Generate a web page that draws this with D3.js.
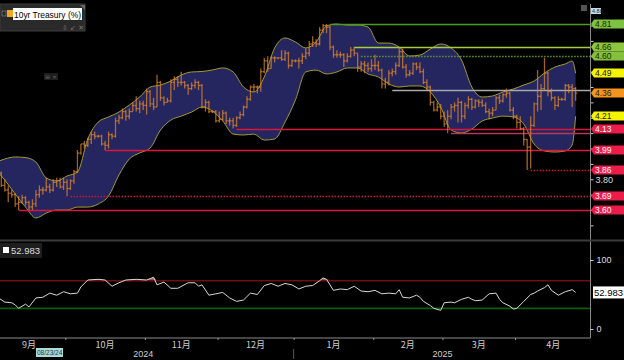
<!DOCTYPE html>
<html><head><meta charset="utf-8">
<script src="https://cdn.jsdelivr.net/npm/d3@7"></script>
<style>body{margin:0;background:#000;overflow:hidden}svg{display:block}</style>
</head><body>
<svg id="chart" width="624" height="360"></svg>
<script>
// ---------- DATA ----------
const firstDay = "2024-09-02", lastDay = "2025-04-24";
// [open, high, low, close] per weekday
const ohlc = [
[3.91,3.92,3.89,3.90],[3.91,3.93,3.83,3.84],[3.84,3.85,3.75,3.76],[3.76,3.80,3.72,3.73],[3.73,3.76,3.65,3.71],
[3.71,3.73,3.68,3.70],[3.70,3.71,3.62,3.64],[3.64,3.69,3.60,3.65],[3.65,3.70,3.64,3.68],[3.68,3.69,3.63,3.65],
[3.65,3.66,3.60,3.62],[3.62,3.67,3.60,3.64],[3.64,3.73,3.62,3.70],[3.70,3.76,3.68,3.73],[3.73,3.75,3.70,3.73],
[3.73,3.81,3.72,3.75],[3.75,3.77,3.71,3.73],[3.73,3.80,3.72,3.78],[3.78,3.81,3.75,3.79],[3.79,3.81,3.74,3.75],
[3.75,3.81,3.73,3.78],
[3.78,3.80,3.69,3.74],[3.74,3.80,3.73,3.79],[3.79,3.86,3.77,3.85],[3.85,3.99,3.84,3.97],
[3.97,4.03,3.96,4.03],[4.03,4.05,4.00,4.02],[4.02,4.07,4.01,4.06],[4.06,4.11,4.03,4.09],[4.09,4.11,4.06,4.08],
[4.08,4.09,4.07,4.08],[4.08,4.09,4.02,4.03],[4.03,4.05,3.99,4.02],[4.02,4.11,4.00,4.09],[4.09,4.10,4.06,4.08],
[4.08,4.20,4.07,4.18],[4.18,4.22,4.16,4.20],[4.20,4.26,4.19,4.24],[4.24,4.25,4.18,4.21],[4.21,4.26,4.19,4.24],
[4.24,4.30,4.24,4.28],[4.28,4.34,4.24,4.26],[4.26,4.31,4.23,4.29],[4.29,4.31,4.25,4.28],
[4.28,4.39,4.22,4.37],
[4.37,4.38,4.27,4.29],[4.29,4.33,4.25,4.27],[4.27,4.48,4.27,4.43],[4.43,4.44,4.31,4.33],[4.33,4.34,4.28,4.30],
[4.30,4.33,4.30,4.31],[4.31,4.45,4.30,4.43],[4.43,4.47,4.38,4.45],[4.45,4.47,4.40,4.43],[4.43,4.50,4.41,4.43],
[4.43,4.44,4.39,4.41],[4.41,4.42,4.35,4.39],[4.39,4.43,4.38,4.41],[4.41,4.45,4.39,4.43],[4.43,4.44,4.38,4.41],
[4.41,4.42,4.26,4.27],[4.27,4.32,4.24,4.30],[4.30,4.31,4.23,4.24],[4.24,4.25,4.23,4.24],[4.24,4.25,4.17,4.18],
[4.18,4.24,4.17,4.19],[4.19,4.25,4.18,4.23],[4.23,4.24,4.16,4.18],[4.18,4.20,4.15,4.18],[4.18,4.20,4.13,4.15],
[4.15,4.21,4.14,4.20],[4.20,4.24,4.19,4.22],[4.22,4.28,4.21,4.27],[4.27,4.34,4.26,4.32],[4.32,4.41,4.31,4.40],
[4.40,4.42,4.37,4.40],[4.40,4.41,4.36,4.40],[4.40,4.52,4.37,4.50],[4.50,4.59,4.49,4.57],[4.57,4.60,4.50,4.52],
[4.52,4.60,4.52,4.59],[4.59,4.60,4.56,4.59],[4.59,4.59,4.58,4.59],[4.59,4.64,4.57,4.58],[4.58,4.64,4.57,4.62],
[4.62,4.63,4.52,4.54],[4.54,4.58,4.53,4.57],
[4.57,4.58,4.56,4.57],[4.57,4.59,4.52,4.57],[4.57,4.62,4.55,4.60],
[4.60,4.65,4.58,4.62],[4.62,4.70,4.60,4.68],[4.68,4.73,4.66,4.69],[4.69,4.71,4.66,4.68],[4.68,4.79,4.67,4.77],
[4.77,4.81,4.75,4.80],[4.80,4.81,4.75,4.79],[4.79,4.80,4.64,4.66],[4.66,4.67,4.59,4.61],[4.61,4.64,4.59,4.61],
[4.61,4.63,4.59,4.61],[4.61,4.62,4.53,4.57],[4.57,4.62,4.56,4.60],[4.60,4.66,4.59,4.64],[4.64,4.66,4.60,4.62],
[4.62,4.62,4.50,4.53],[4.53,4.57,4.50,4.55],[4.55,4.57,4.49,4.54],[4.54,4.56,4.50,4.52],[4.52,4.58,4.50,4.54],
[4.54,4.61,4.51,4.54],[4.54,4.57,4.50,4.51],[4.51,4.52,4.39,4.42],[4.42,4.46,4.39,4.43],[4.43,4.51,4.41,4.49],
[4.49,4.52,4.47,4.50],[4.50,4.56,4.48,4.54],[4.54,4.66,4.53,4.63],[4.63,4.65,4.52,4.53],[4.53,4.55,4.46,4.48],
[4.48,4.51,4.47,4.49],[4.49,4.56,4.48,4.55],[4.55,4.56,4.51,4.53],[4.53,4.56,4.49,4.50],[4.50,4.52,4.42,4.43],
[4.43,4.45,4.38,4.40],[4.40,4.41,4.28,4.30],[4.30,4.31,4.24,4.25],[4.25,4.30,4.24,4.27],[4.27,4.29,4.19,4.21],
[4.21,4.24,4.14,4.16],[4.16,4.25,4.10,4.21],[4.21,4.29,4.19,4.27],[4.27,4.30,4.24,4.28],[4.28,4.33,4.17,4.30],
[4.30,4.31,4.17,4.21],[4.21,4.30,4.19,4.28],[4.28,4.34,4.26,4.32],[4.32,4.33,4.25,4.27],[4.27,4.32,4.26,4.31],
[4.31,4.32,4.27,4.30],[4.30,4.32,4.27,4.28],[4.28,4.30,4.23,4.24],[4.24,4.26,4.19,4.23],[4.23,4.27,4.21,4.25],
[4.25,4.34,4.25,4.33],[4.33,4.35,4.29,4.31],[4.31,4.36,4.30,4.35],[4.35,4.39,4.33,4.36],[4.36,4.37,4.24,4.25],
[4.25,4.27,4.19,4.21],
[4.21,4.22,4.13,4.17],[4.17,4.21,4.12,4.13],[4.13,4.14,4.02,4.06],[4.06,4.06,3.86,4.01],
[4.01,4.21,3.87,4.15],[4.15,4.30,4.14,4.29],[4.29,4.51,4.24,4.34],[4.34,4.42,4.25,4.39],[4.39,4.59,4.38,4.49],
[4.49,4.50,4.34,4.37],[4.37,4.39,4.31,4.33],[4.33,4.34,4.25,4.28],[4.28,4.34,4.27,4.32],[4.32,4.33,4.31,4.32],
[4.32,4.42,4.31,4.41],[4.41,4.42,4.36,4.40],[4.40,4.42,4.27,4.39],[4.39,4.40,4.31,4.36]
];
// Bollinger band samples (bar index -> value)
const bandAt = [0,3,6,9,12,15,18,21,24,27,30,33,36,39,42,45,48,51,54,57,60,63,66,69,72,75,78,81,84,87,90,93,96,99,102,105,108,111,114,117,120,123,126,129,132,135,138,141,144,147,150,153,156,159,162,165,167,168];
const bandUpper = [3.906,3.932,3.945,3.941,3.912,3.808,3.789,3.821,3.847,4.062,4.172,4.205,4.237,4.283,4.335,4.40,4.413,4.439,4.478,4.498,4.501,4.511,4.524,4.498,4.40,4.368,4.465,4.654,4.719,4.693,4.654,4.693,4.797,4.81,4.803,4.803,4.79,4.686,4.686,4.66,4.602,4.608,4.647,4.68,4.654,4.576,4.40,4.335,4.342,4.368,4.387,4.413,4.439,4.491,4.53,4.55,4.569,4.49];
const bandLower = [3.870,3.795,3.704,3.619,3.548,3.58,3.60,3.60,3.619,3.619,3.639,3.691,3.828,3.932,3.971,4.003,4.12,4.185,4.211,4.237,4.27,4.244,4.179,4.094,4.088,4.094,4.055,4.062,4.172,4.315,4.498,4.51,4.485,4.498,4.524,4.524,4.485,4.465,4.42,4.40,4.407,4.407,4.368,4.27,4.12,4.101,4.127,4.179,4.198,4.211,4.205,4.159,4.029,3.984,3.977,3.984,4.023,4.21];
// RSI samples (bar index -> value)
const rsiAt  = [0,3,5,6,7,9,10,12,14,16,18,20,22,24,25,27,30,32,34,36,38,41,44,46,47,49,51,53,56,58,59,60,62,64,66,68,70,72,74,76,78,80,82,84,86,88,90,92,94,95,96,98,100,102,104,106,108,110,112,114,116,117,118,120,122,123,124,126,127,129,130,132,133,135,137,138,139,141,143,145,146,147,149,150,151,153,155,156,157,159,160,161,163,165,167,168];
const rsiVal = [49,39,38,35,30,36,32,45,46,52,49,54,51,52,61,71,72,71,62,67,71,72,71,75,64,68,59,59,67,67,62,64,49,51,53,45,40,42,52,50,63,66,62,66,64,58,62,63,70,74,72,56,58,57,62,55,54,56,51,52,51,57,46,45,49,46,40,34,30,27,38,39,38,43,46,43,41,42,51,52,43,38,33,29,30,40,50,52,55,60,64,56,49,54,57,53];
const levels = [
  {v:4.81, from:97,  color:"#4e9b1c", dash:null},
  {v:4.66, from:104, color:"#a6cf3c", dash:null},
  {v:4.60, from:106, color:"#5c9e22", dash:"1.5,1.5"},
  {v:4.38, from:115, color:"#a8a8a8", dash:null},
  {v:4.13, from:70,  color:"#d8173d", dash:null},
  {v:4.10, from:132, color:"#b2395a", dash:null},
  {v:3.99, from:32,  color:"#e0173d", dash:null},
  {v:3.86, from:155, color:"#d01434", dash:"1.5,1.5"},
  {v:3.69, from:22,  color:"#d01434", dash:"1.5,1.5"},
  {v:3.60, from:7,   color:"#d8173d", dash:null}
];
const tagValues = ["4.81","4.66","4.60","4.49","4.36","4.21","4.13","3.99","3.86","3.69","3.60"];
const tagFill   = ["#7dc242","#8cc63f","#84c03c","#f4f400","#f7941d","#f4f400","#ea1c4a","#ea1c4a","#ea1c4a","#ea1c4a","#ea1c4a"];
const tagText   = ["#1a2a00","#1a2a00","#1a2a00","#222","#222","#222","#fff","#fff","#fff","#fff","#fff"];
const monthNames = ["9月","10月","11月","12月","1月","2月","3月","4月"];
const monthStarts = ["2024-09-02","2024-10-01","2024-11-01","2024-12-02","2025-01-01","2025-02-03","2025-03-03","2025-04-01","2025-05-01"];
const years = [{label:"2024", from:"2024-09-02", to:"2025-01-01"},{label:"2025", from:"2025-01-01", to:"2025-05-01"}];
const rsiLast = "52.983";

// ---------- SCALES ----------
const parse = d3.timeParse("%Y-%m-%d");
const days = d3.timeDay.range(parse(firstDay), parse("2025-05-01")).filter(d => d.getDay()!==0 && d.getDay()!==6);
const idxOf = s => { const t = parse(s).getTime(); return days.findIndex(d => d.getTime() >= t); };
const svg = d3.select("#chart");
const W = 624, axisX = 590.5;
const x = d3.scaleLinear().domain([0, 172.5]).range([-5.6, 591.2]);
const y = d3.scaleLinear().domain([3.60, 4.81]).range([210, 24]);
const yr = d3.scaleLinear().domain([0, 100]).range([329, 260]);

svg.append("rect").attr("width",W).attr("height",360).attr("fill","#000");
const defs = svg.append("defs");
defs.append("clipPath").attr("id","clipTop").append("rect").attr("x",0).attr("y",0).attr("width",axisX).attr("height",238);
defs.append("clipPath").attr("id","clipBot").append("rect").attr("x",0).attr("y",242).attr("width",axisX).attr("height",96);

// ---------- MAIN PANEL ----------
const gTop = svg.append("g").attr("clip-path","url(#clipTop)");
const band = bandAt.map((b,i)=>({i:b,u:bandUpper[i],l:bandLower[i]}));
gTop.append("path").datum(band)
  .attr("d", d3.area().x(d=>x(d.i)).y0(d=>y(d.l)).y1(d=>y(d.u)).curve(d3.curveMonotoneX))
  .attr("fill","#25255f");
gTop.append("path").datum(band).attr("d", d3.line().x(d=>x(d.i)).y(d=>y(d.u)).curve(d3.curveMonotoneX))
  .attr("fill","none").attr("stroke","#a59b2e").attr("stroke-width",1);
gTop.append("path").datum(band).attr("d", d3.line().x(d=>x(d.i)).y(d=>y(d.l)).curve(d3.curveMonotoneX))
  .attr("fill","none").attr("stroke","#a59b2e").attr("stroke-width",1);

levels.forEach(L=>{
  const yy = Math.round(y(L.v))+0.5;
  gTop.append("line").attr("x1",x(L.from)).attr("x2",axisX).attr("y1",yy).attr("y2",yy)
    .attr("stroke",L.color).attr("stroke-width",1.3).attr("stroke-dasharray",L.dash);
});

const bars = gTop.append("g").attr("stroke","#e0882a").attr("stroke-opacity",0.72).attr("stroke-width",1.3);
ohlc.forEach((r,i)=>{
  const cx = x(i);
  bars.append("line").attr("x1",cx).attr("x2",cx).attr("y1",y(r[1])).attr("y2",y(r[2]));
  bars.append("line").attr("x1",cx-1.6).attr("x2",cx).attr("y1",y(r[0])).attr("y2",y(r[0]));
  bars.append("line").attr("x1",cx).attr("x2",cx+1.6).attr("y1",y(r[3])).attr("y2",y(r[3]));
});

const yAxis = d3.axisRight(y).tickValues(d3.range(3.5,4.95,0.1)).tickSize(3).tickFormat(d=>Math.abs(d-3.8)<1e-6 ? "3.80" : "");
const ya = svg.append("g").attr("transform",`translate(${axisX},0)`).call(yAxis);
ya.select(".domain").remove();
ya.selectAll("line").attr("stroke","#ccc");
ya.selectAll("text").attr("fill","#ddd").attr("font-size",9).attr("font-family","Liberation Sans, Arial").attr("x",5);

svg.append("line").attr("x1",axisX).attr("x2",axisX).attr("y1",4).attr("y2",338).attr("stroke","#8a8a8a").attr("stroke-width",1);

tagValues.forEach((t,k)=>{
  const yy = Math.round(y(+t));
  const g = svg.append("g").attr("transform",`translate(0,${yy})`);
  g.append("path").attr("d","M591,0 L594,-4.5 L624,-4.5 L624,4.5 L594,4.5 Z").attr("fill",tagFill[k]);
  g.append("text").attr("x",595).attr("y",3.2).attr("fill",tagText[k]).attr("font-size",8.5)
    .attr("font-family","Liberation Sans, Arial").text(t);
});

// header legend
svg.append("rect").attr("x",0).attr("y",4).attr("width",85).attr("height",27).attr("fill","#2a2a2a").attr("stroke","#3c3c3c");
svg.append("rect").attr("x",2).attr("y",11).attr("width",4).attr("height",5).attr("fill","none").attr("stroke","#888").attr("stroke-width",0.6);
svg.append("rect").attr("x",7).attr("y",10).attr("width",6).attr("height",7).attr("fill","#f5a623");
svg.append("rect").attr("x",13).attr("y",8).attr("width",69).attr("height",12).attr("fill","#fff");
svg.append("text").attr("x",14).attr("y",17.5).attr("font-size",9.5).attr("font-family","Liberation Sans, Arial").attr("fill","#000")
  .attr("textLength",67).attr("lengthAdjust","spacingAndGlyphs").text("10yr Treasury (%)");
svg.append("text").attr("x",62).attr("y",30).attr("font-size",7).attr("fill","#777").attr("font-family","DejaVu Sans").text("⇩ ↙ ✕");
svg.append("path").attr("d","M80,5 L85,5 L85,10 Z").attr("fill","#666");
svg.append("rect").attr("x",44).attr("y",73).attr("width",14).attr("height",7).attr("fill","#1d1d1d");
svg.append("text").attr("x",45).attr("y",79).attr("font-size",6).attr("fill","#666").attr("font-family","DejaVu Sans").text("⊞ ×");
svg.append("rect").attr("x",581).attr("y",5).attr("width",6).attr("height",6).attr("fill","#555");
svg.append("rect").attr("x",591).attr("y",8).attr("width",10).attr("height",6).attr("fill","#bfe0ea");
svg.append("text").attr("x",592).attr("y",13).attr("font-size",5.5).attr("fill","#223").attr("font-family","Liberation Sans, Arial").text("4.88");

// ---------- RSI PANEL ----------
svg.append("line").attr("x1",0).attr("x2",W).attr("y1",240.5).attr("y2",240.5).attr("stroke","#3a3a3a").attr("stroke-width",2);
const bot = svg.append("g").attr("clip-path","url(#clipBot)");
const rsi = rsiAt.map((b,i)=>({i:b,v:rsiVal[i]}));
bot.append("path").datum(rsi)
  .attr("d", d3.area().x(d=>x(d.i)).y0(yr(70)).y1(d=>yr(Math.max(70,d.v))))
  .attr("fill","#c46a6a").attr("opacity",0.8);
bot.append("line").attr("x1",0).attr("x2",axisX).attr("y1",yr(70)).attr("y2",yr(70)).attr("stroke","#6e0f12").attr("stroke-width",1.5);
bot.append("line").attr("x1",0).attr("x2",axisX).attr("y1",yr(30)).attr("y2",yr(30)).attr("stroke","#0c5c12").attr("stroke-width",1.8);
bot.append("path").datum(rsi).attr("d", d3.line().x(d=>x(d.i)).y(d=>yr(d.v)))
  .attr("fill","none").attr("stroke","#d8d8d8").attr("stroke-width",1);

const rAxis = d3.axisRight(yr).tickValues([0,100]).tickSize(3);
const ra = svg.append("g").attr("transform",`translate(${axisX},0)`).call(rAxis);
ra.select(".domain").remove();
ra.selectAll("line").attr("stroke","#ccc");
ra.selectAll("text").attr("fill","#ddd").attr("font-size",9).attr("font-family","Liberation Sans, Arial").attr("x",6);
svg.append("rect").attr("x",593).attr("y",yr(+rsiLast)-6).attr("width",31).attr("height",12).attr("fill","#fff");
svg.append("text").attr("x",594).attr("y",yr(+rsiLast)+3.5).attr("font-size",9.5).attr("fill","#000").attr("font-family","Liberation Sans, Arial").text(rsiLast);
svg.append("rect").attr("x",0).attr("y",243).attr("width",42).attr("height",15).attr("fill","#1e1e1e");
svg.append("rect").attr("x",3).attr("y",247).attr("width",6).attr("height",6).attr("fill","#fff");
svg.append("text").attr("x",11).attr("y",254).attr("font-size",9.5).attr("fill","#ddd").attr("font-family","Liberation Sans, Arial").text(rsiLast);

// ---------- TIME AXIS ----------
svg.append("line").attr("x1",0).attr("x2",axisX).attr("y1",338).attr("y2",338).attr("stroke","#8a8a8a");
const bounds = monthStarts.slice(1,-1).map(s=>idxOf(s)-0.5);
const xAxis = d3.axisBottom(x).tickValues(bounds).tickSize(2).tickFormat("");
const xa = svg.append("g").attr("transform","translate(0,338)").call(xAxis);
xa.select(".domain").remove();
xa.selectAll("line").attr("stroke","#999");
monthNames.forEach((m,k)=>{
  const a = idxOf(monthStarts[k]);
  const b = idxOf(monthStarts[k+1]) < 0 ? days.length : idxOf(monthStarts[k+1]);
  svg.append("text").attr("x",x((a+b-1)/2)).attr("y",348).attr("text-anchor","middle")
    .attr("font-size",9).attr("fill","#cfcfcf").attr("font-family","Noto Sans CJK JP, Liberation Sans").text(m);
});
years.forEach(Y=>{
  const a = idxOf(Y.from);
  const b = idxOf(Y.to) < 0 ? days.length : idxOf(Y.to);
  svg.append("text").attr("x",x((a+b-1)/2)).attr("y",357).attr("text-anchor","middle")
    .attr("font-size",9).attr("fill","#cfcfcf").attr("font-family","Liberation Sans, Arial").text(Y.label);
});
const jx = x(idxOf("2025-01-01")-0.5);
svg.append("line").attr("x1",jx).attr("x2",jx).attr("y1",349).attr("y2",359).attr("stroke","#555");
svg.append("rect").attr("x",36).attr("y",348).attr("width",27).attr("height",9).attr("fill","#a9dcd8");
svg.append("text").attr("x",37).attr("y",355).attr("font-size",6.5).attr("fill","#234").attr("font-family","Liberation Sans, Arial").text("08/23/24");
</script>
</body></html>
